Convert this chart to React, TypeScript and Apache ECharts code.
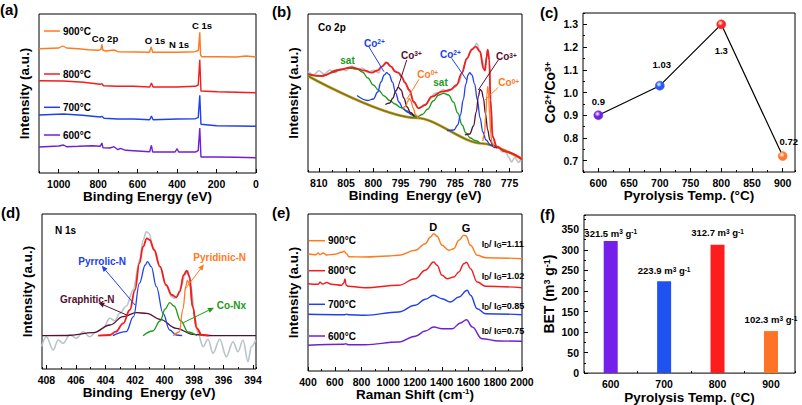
import React, { useEffect, useRef } from 'react';
import * as echarts from 'echarts';

const FONT = '"Liberation Sans", Arial, sans-serif';
const ORANGE = '#ff7a1f';
const RED = '#f41c1c';
const BLUE = '#2040ee';
const PURPLE = '#7020d4';
const GREEN = '#1c9a1c';
const MAROON = '#561031';
const GRAY = '#b7c4c8';

// ---------- (a) XPS survey: [binding energy, intensity] ----------
const survey900 = [[1100,124.3],[1000,125],[980,127],[960,125],[900,124.3],[850,123.3],[800,122.7],[786,123.5],[781,128.7],[776,122.7],[760,122],[720,123],[700,121.3],[600,121],[540,120.7],[531,126],[524,120.7],[400,120.7],[310,121.3],[292,122.5],[285,140.7],[281,118],[275,116.3],[200,116.3],[100,116],[50,117],[0,116]];
const survey800 = [[1100,92.3],[976,92],[874,90.7],[790,88.7],[781,89.3],[773,87.3],[705,86.7],[620,86.7],[539,86],[530,90],[522,86],[400,86],[307,86.7],[293,88],[285,113.3],[279,82],[196,81.3],[0,80.3]];
const survey700 = [[1100,58],[976,59],[880,57.7],[790,56],[781,56.7],[770,54.7],[700,54],[620,54],[539,53.3],[530,57],[522,53.3],[400,54],[307,54.3],[293,55.3],[285,77.7],[279,48.7],[200,47.3],[0,46.7]];
const survey600 = [[1100,26],[1000,27],[976,28],[960,26.3],[900,26.7],[830,27.3],[790,26.7],[781,30],[776,25.3],[740,25],[720,26.3],[700,23.3],[688,24.7],[660,22.7],[600,22],[539,21.3],[530,27.7],[524,21],[410,21],[400,24.3],[392,21],[307,21],[293,22.3],[285,45],[279,16],[200,16],[100,15.7],[0,15.3]];
const tempLabels = ['900°C', '800°C', '700°C', '600°C'];

// ---------- (b) Co 2p ----------
const co2pRaw = [[812,98.3],[811,95],[810,99.3],[809,96],[808,100],[807,97.3],[806,101.3],[805,99.3],[804,104],[803,100.7],[802,101.7],[801,97.3],[800,99.7],[799,97],[798.5,103],[797.7,108.3],[797,104],[796.3,100.7],[795.6,97.7],[795,96],[794.4,90],[793.8,84],[793.2,77],[792.5,67],[791.8,62.5],[791,63],[790.3,66.5],[789.5,71],[788.8,76.5],[788,77.3],[787.2,80.5],[786.5,78.3],[785.8,81],[785,82.7],[784.3,87],[783.6,98],[782.9,110],[782.2,118],[781.5,123],[781,126.7],[780.5,120],[780,110],[779.6,101],[779.3,108],[779,121],[778.7,108],[778.4,65],[778,32],[777.5,22],[777,24],[776.4,18],[775.8,20],[775.2,13.3],[774.6,8],[774,13],[773.4,7.5],[772.7,12]];
const co2pEnvelope = [[812,96],[809.5,94],[806.4,100],[804,102.7],[801.5,99.3],[800.3,97.3],[799.2,99.5],[798.5,103.3],[797.55,107.3],[796.7,103.3],[796,98.3],[795.4,97.3],[794.8,93.3],[794.2,87.3],[793.4,80],[792.6,68.3],[791.7,61.7],[790.5,65],[789.3,73.3],[787.4,78.3],[785.9,80],[784.7,85],[783.8,96.7],[782.8,111.7],[781.9,120.7],[781.2,123.3],[780.4,118.3],[779.8,101.7],[779.5,99.3],[779.2,113.3],[779,120],[778.7,110],[778.5,70],[778.1,33.3],[777.3,23.3],[775.8,18.3],[772.7,10.7]];
const co2pBackground = [[812,94],[792,52],[780,26.5],[772.7,11]];
const co2pSatA = [[812,95.5],[810.5,94],[809,94.5],[807.5,97.5],[806,100.5],[804.5,102],[803,101],[802,98],[801,92],[800,85],[799,79.5],[798,74],[797,69.5],[796,66],[795,62.5],[794,59.5],[793,56],[792,52.5]];
const co2pCo2A = [[803,74.5],[801,69.5],[800,71],[799.2,78],[798.6,88],[798,95],[797.55,97.3],[797.1,95.5],[796.5,88],[795.9,77],[795.3,68],[794.6,62],[793.8,58],[793,55]];
const co2pCo3A = [[797.8,65.5],[797,67],[796.4,72],[795.9,79],[795.4,82.7],[794.9,80],[794.4,72],[793.8,63],[793.2,57.5],[792.5,53.5]];
const co2pCo0A = [[794.6,61.5],[794.1,63.5],[793.7,68.5],[793.4,71.7],[793.1,69],[792.7,62],[792.2,55],[791.7,51]];
const co2pSatB = [[793,55],[792,53],[791,55.5],[790,61],[789,69],[788,75],[787.1,76.7],[786.2,75],[785.3,68],[784.5,57],[783.7,45],[783,37],[782.2,32],[781.3,29.5],[780.5,27.5]];
const co2pCo2B = [[786.5,39.5],[785.2,40],[784.5,45],[784,55],[783.5,70],[783,86],[782.6,95],[782.3,97.3],[781.9,95],[781.4,86],[780.9,70],[780.4,52],[779.9,38],[779.3,30],[778.5,25],[777.7,22]];
const co2pCo3B = [[783.2,35],[782.3,36],[781.6,44],[781.1,58],[780.7,74],[780.4,80.7],[780.1,79],[779.8,72],[779.4,56],[779,40],[778.6,30],[778,24.5],[777.3,22]];
const co2pCo0B = [[779.9,29],[779.6,36],[779.35,55],[779.15,75],[779,83.3],[778.85,77],[778.65,55],[778.45,36],[778.2,27],[777.8,23]];

// ---------- (c) Co2+/Co3+ ratio ----------
const pyroTemps = [600, 700, 800, 900];
const coRatio = [0.9, 1.03, 1.3, 0.72];
const ratioColors = ['#7323e0', '#2a58f0', '#ff2424', '#ff7a30'];

// ---------- (d) N 1s ----------
const n1sRaw = [[408.34,22.3],[408,32.3],[407.55,19],[407.2,29],[406.87,25.7],[406.42,34],[405.97,30.7],[405.52,37.3],[405.07,32.3],[404.61,37.3],[404.16,40.7],[403.71,50.7],[403.37,48.3],[403.03,55.7],[402.58,63],[402.13,79],[401.68,109],[401.45,129],[401.23,137.3],[401.05,135.7],[400.78,122.3],[400.33,102.3],[399.87,84],[399.53,72.3],[399.31,70.7],[399.08,74],[398.86,83],[398.63,94],[398.41,98.3],[398.18,80.7],[397.95,52.3],[397.73,35.7],[397.39,22.3],[397.05,29.7],[396.71,15.7],[396.26,29.7],[395.81,12.3],[395.36,27.3],[395.02,17.3],[394.68,29],[394.34,7.3],[394.12,22.3],[393.82,29]];
const n1sEnvelope = [[404.5,33.3],[403.7,34],[403.3,37.3],[402.8,45.7],[402.35,59],[402,79],[401.7,105.7],[401.45,122.3],[401.2,130.7],[401,129],[400.7,119],[400.3,102.3],[399.9,84],[399.5,74],[399.2,71.7],[398.97,77.3],[398.7,94],[398.5,98.3],[398.3,92.3],[398.1,62.3],[397.8,40.7],[397.5,34],[397,33.3]];
const n1sPyrrolic = [[403.5,33.3],[402.6,37.3],[402.1,52.3],[401.7,85.7],[401.3,104],[401.15,107.3],[400.9,102.3],[400.55,82.3],[400.1,55.7],[399.65,39],[399.2,34],[398.8,33.3]];
const n1sGraphitic = [[408.3,33.3],[406.6,33.5],[404.8,36.3],[403.7,44],[402.8,52.3],[401.9,56.3],[401.2,55.7],[400.3,49.7],[399.2,40.7],[398.1,34.7],[396.7,33.3],[393.8,33.3]];
const n1sCoNx = [[401.45,33.3],[400.8,38],[400.3,48],[399.95,60],[399.65,66.3],[399.35,63],[398.9,48],[398.4,37],[397.8,33.3]];
const n1sPyridinic = [[399.4,33.3],[399,37],[398.75,60],[398.55,83],[398.45,88.7],[398.3,84],[398.1,62],[397.85,41],[397.5,33.3]];

// ---------- (e) Raman ----------
const raman900 = [[400,117.3],[460,116.3],[475,118],[490,116.3],[513,118],[540,116],[600,116.7],[650,118.7],[670,119.7],[690,117],[705,114.3],[826,114],[1000,115],[1077,115.7],[1202,120.7],[1277,127.3],[1315,134],[1340,137.3],[1365,134.7],[1402,125.7],[1453,120.7],[1490,122.3],[1528,130.7],[1565,135.7],[1580,135.3],[1615,125.7],[1665,115.7],[1728,113.3],[2000,112.3]];
const raman800 = [[400,87.3],[475,86.7],[490,88.7],[510,87],[540,88.5],[575,86.7],[651,85.7],[668,88],[676,92],[685,86],[701,84.7],[826,83.3],[1077,85.7],[1202,92.3],[1277,100.7],[1340,109],[1365,105.7],[1402,95.7],[1440,92.3],[1490,94],[1528,99],[1565,107.3],[1585,108.7],[1615,102.3],[1665,89],[1728,84.7],[2000,83.3]];
const raman700 = [[400,56.7],[676,56.3],[690,56.9],[700,56.3],[826,55.7],[1077,59],[1202,65.7],[1277,71.7],[1340,75.7],[1402,72.3],[1465,69],[1528,74],[1590,80.7],[1615,75.7],[1665,62.3],[1728,57.3],[2000,56.3]];
const raman600 = [[400,25.7],[670,26.7],[680,27.3],[700,26.3],[826,26.3],[1077,29],[1202,34.7],[1277,40],[1340,44],[1402,42.3],[1478,42.3],[1540,48],[1585,51.3],[1628,44],[1700,32.3],[1828,30],[2000,29.7]];
const ramanRatios = ['1.11', '1.02', '0.85', '0.75'];

// ---------- (f) BET ----------
const betTemps = [600, 700, 800, 900];
const betValues = [321.5, 223.9, 312.7, 102.3];
const betColors = ['#7420ea', '#2052f2', '#ff1c1c', '#ff7326'];

const tickFont = { color: '#000', fontWeight: 'bold' as const, fontSize: 10.5, fontFamily: FONT };
const nameFont = { color: '#000', fontWeight: 'bold' as const, fontSize: 13.5, fontFamily: FONT };
const supRich = {
  sup: { fontSize: 8, fontWeight: 'bold', fontFamily: FONT, color: '#000', verticalAlign: 'top', lineHeight: 8 },
};
const plainFmt = (v: number) => String(v);

function majorX(gi: number, min: number, max: number, step: number, o: any) {
  return {
    type: 'value', gridIndex: gi, position: 'bottom', min, max, minInterval: step, maxInterval: step,
    inverse: !!o.inverse,
    axisLine: { show: false, onZero: false }, splitLine: { show: false },
    axisTick: { inside: true, length: 4, lineStyle: { color: '#000', width: 1 } },
    axisLabel: { ...tickFont, margin: 5, showMinLabel: o.showMin, showMaxLabel: o.showMax, formatter: o.fmt || plainFmt },
    name: o.name, nameLocation: 'middle', nameGap: o.gap,
    nameTextStyle: { ...nameFont, rich: supRich },
  };
}
function minorX(gi: number, min: number, max: number, step: number, inverse = false) {
  return {
    type: 'value', gridIndex: gi, position: 'bottom', min, max, minInterval: step, maxInterval: step, inverse,
    axisLine: { show: false, onZero: false }, splitLine: { show: false }, axisLabel: { show: false },
    axisTick: { inside: true, length: 2, lineStyle: { color: '#000', width: 1 } },
  };
}
function plainY(gi: number, min: number, max: number, name: string, gap: number) {
  return {
    type: 'value', gridIndex: gi, position: 'left', min, max,
    axisLine: { show: false, onZero: false }, splitLine: { show: false }, axisTick: { show: false }, axisLabel: { show: false },
    name, nameLocation: 'middle', nameGap: gap, nameTextStyle: { ...nameFont, rich: supRich },
  };
}
function majorY(gi: number, min: number, max: number, step: number, o: any) {
  return {
    type: 'value', gridIndex: gi, position: 'left', min, max, minInterval: step, maxInterval: step,
    axisLine: { show: false, onZero: false }, splitLine: { show: false },
    axisTick: { inside: true, length: 4, lineStyle: { color: '#000', width: 1 } },
    axisLabel: { ...tickFont, margin: 5, showMinLabel: o.showMin, showMaxLabel: o.showMax, formatter: o.fmt || plainFmt },
    name: o.name, nameLocation: 'middle', nameGap: o.gap,
    nameTextStyle: { ...nameFont, fontSize: 14, rich: { sup: { ...supRich.sup, fontSize: 9 } } },
  };
}
function minorY(gi: number, min: number, max: number, step: number) {
  return {
    type: 'value', gridIndex: gi, position: 'left', min, max, minInterval: step, maxInterval: step,
    axisLine: { show: false, onZero: false }, splitLine: { show: false }, axisLabel: { show: false },
    axisTick: { inside: true, length: 2, lineStyle: { color: '#000', width: 1 } },
  };
}

function ln(data: number[][], color: string, xi: number, yi: number, w = 1.4, smooth: number | boolean = 0) {
  return {
    type: 'line', data, xAxisIndex: xi, yAxisIndex: yi, symbol: 'none', silent: true,
    lineStyle: { color, width: w }, itemStyle: { color }, smooth, smoothMonotone: 'x', clip: true,
  };
}

function txt(x: number, y: number, text: string, color = '#000', size = 10, align = 'left', rich?: any) {
  return {
    type: 'text', x, y, z: 100, silent: true,
    style: { text, fill: color, font: `bold ${size}px ${FONT}`, textAlign: align, textVerticalAlign: 'middle', rich },
  };
}
function seg(x1: number, y1: number, x2: number, y2: number, color: string, w = 1) {
  return { type: 'line', z: 100, silent: true, shape: { x1, y1, x2, y2 }, style: { stroke: color, lineWidth: w } };
}
function arrow(x1: number, y1: number, x2: number, y2: number, color: string) {
  const a = Math.atan2(y2 - y1, x2 - x1);
  const L = 6, W = 2.6;
  const bx = x2 - L * Math.cos(a), by = y2 - L * Math.sin(a);
  return [
    seg(x1, y1, bx, by, color, 1),
    {
      type: 'polygon', z: 100, silent: true,
      shape: { points: [[x2, y2], [bx + W * Math.sin(a), by - W * Math.cos(a)], [bx - W * Math.sin(a), by + W * Math.cos(a)]] },
      style: { fill: color },
    },
  ];
}

const coSupRich = { sup: { fontSize: 6.5, fontWeight: 'bold', fontFamily: FONT, verticalAlign: 'top', lineHeight: 7 } };
const subRich = { sub: { fontSize: 6.5, fontWeight: 'bold', fontFamily: FONT, verticalAlign: 'bottom', lineHeight: 7 } };

function buildOption() {
  const grids = [
    { left: 39, top: 14, width: 217, height: 159 },
    { left: 308, top: 14, width: 214, height: 158 },
    { left: 583, top: 13, width: 212, height: 159 },
    { left: 42, top: 214, width: 214, height: 155 },
    { left: 308, top: 214, width: 214, height: 157 },
    { left: 584, top: 215, width: 211, height: 159 },
  ].map((g) => ({ ...g, show: true, borderColor: '#000', borderWidth: 1, containLabel: false }));

  const xAxis = [
    majorX(0, 0, 1100, 200, { inverse: true, showMin: true, showMax: false, name: 'Binding Energy (eV)', gap: 12 }),
    minorX(0, 0, 1100, 100, true),
    majorX(1, 772.7, 812, 5, { inverse: true, showMin: false, showMax: false, name: 'Binding  Energy (eV)', gap: 12 }),
    minorX(1, 772.7, 812, 2.5, true),
    majorX(2, 575, 920, 50, { showMin: false, showMax: false, name: 'Pyrolysis Temp. (°C)', gap: 12 }),
    minorX(2, 575, 920, 25),
    majorX(3, 393.8, 408.3, 2, { inverse: true, showMin: false, showMax: false, name: 'Binding  Energy (eV)', gap: 14 }),
    minorX(3, 393.8, 408.3, 1, true),
    majorX(4, 400, 2000, 200, { showMin: true, showMax: true, name: 'Raman Shift (cm{sup|-1})', gap: 14 }),
    minorX(4, 400, 2000, 100),
    majorX(5, 550, 945, 100, { showMin: false, showMax: false, name: 'Pyrolysis Temp. (°C)', gap: 12 }),
    minorX(5, 550, 945, 50),
  ];
  const yAxis = [
    plainY(0, 0, 159, 'Intensity (a.u.)', 8),
    plainY(1, -2, 156, 'Intensity (a.u.)', 8),
    majorY(2, 0.65, 1.35, 0.1, { showMin: false, showMax: false, fmt: (v: number) => v.toFixed(1), name: 'Co{sup|2+}/Co{sup|3+}', gap: 26 }),
    minorY(2, 0.65, 1.35, 0.05),
    plainY(3, 0, 155, 'Intensity (a.u.)', 8),
    plainY(4, 0, 157, 'Intensity (a.u.)', 8),
    majorY(5, 0, 385, 50, { showMin: true, showMax: false, name: 'BET (m{sup|3} g{sup|-1})', gap: 28 }),
    minorY(5, 0, 385, 25),
  ];

  const series: any[] = [];
  // (a)
  series.push(ln(survey900, ORANGE, 0, 0, 1.4));
  series.push(ln(survey800, RED, 0, 0, 1.4));
  series.push(ln(survey700, BLUE, 0, 0, 1.4));
  series.push(ln(survey600, PURPLE, 0, 0, 1.4));
  // (b)
  series.push(ln(co2pRaw, GRAY, 2, 1, 1.6, 0.3));
  series.push(ln(co2pBackground, ORANGE, 2, 1, 2.6, 0.3));
  series.push(ln(co2pBackground, GREEN, 2, 1, 1.2, 0.3));
  series.push(ln(co2pSatA, GREEN, 2, 1, 1.3, 0.4));
  series.push(ln(co2pSatB, GREEN, 2, 1, 1.3, 0.4));
  series.push(ln(co2pCo2A, BLUE, 2, 1, 1.3, 0.4));
  series.push(ln(co2pCo2B, BLUE, 2, 1, 1.3, 0.4));
  series.push(ln(co2pCo3A, MAROON, 2, 1, 1.3, 0.4));
  series.push(ln(co2pCo3B, MAROON, 2, 1, 1.3, 0.4));
  series.push(ln(co2pCo0A, ORANGE, 2, 1, 1.3, 0.4));
  series.push(ln(co2pCo0B, ORANGE, 2, 1, 1.3, 0.4));
  series.push(ln(co2pEnvelope, RED, 2, 1, 1.8, 0.4));
  // (c)
  series.push({
    type: 'line', xAxisIndex: 4, yAxisIndex: 2, silent: true,
    lineStyle: { color: '#000', width: 1.2 }, symbol: 'circle', symbolSize: 9,
    data: pyroTemps.map((t, i) => ({
      value: [t, coRatio[i]],
      itemStyle: {
        color: { type: 'radial', x: 0.4, y: 0.35, r: 0.7, colorStops: [{ offset: 0, color: '#ffffff' }, { offset: 0.45, color: ratioColors[i] }, { offset: 1, color: ratioColors[i] }] },
        borderColor: ratioColors[i], borderWidth: 0.5,
      },
      label: [
        { position: 'top', distance: 4, offset: [0, 0] },
        { position: 'top', distance: 4, offset: [2, -7] },
        { position: 'bottom', distance: 16, offset: [0, 0] },
        { position: 'top', distance: 3, offset: [6, -2] },
      ][i],
    })),
    label: { show: true, color: '#000', fontWeight: 'bold', fontSize: 9.5, fontFamily: FONT, formatter: (p: any) => String(p.value[1]) },
  });
  // (d)
  series.push(ln(n1sRaw, GRAY, 6, 4, 1.6, 0.35));
  series.push(ln(n1sGraphitic, MAROON, 6, 4, 1.3, 0.4));
  series.push(ln(n1sPyrrolic, BLUE, 6, 4, 1.3, 0.4));
  series.push(ln(n1sCoNx, GREEN, 6, 4, 1.3, 0.4));
  series.push(ln(n1sPyridinic, ORANGE, 6, 4, 1.3, 0.4));
  series.push(ln(n1sEnvelope, RED, 6, 4, 1.8, 0.4));
  // (e)
  series.push(ln(raman900, ORANGE, 8, 5, 1.4, 0.4));
  series.push(ln(raman800, RED, 8, 5, 1.4, 0.4));
  series.push(ln(raman700, BLUE, 8, 5, 1.4, 0.4));
  series.push(ln(raman600, PURPLE, 8, 5, 1.4, 0.4));
  // (f)
  series.push({
    type: 'bar', xAxisIndex: 10, yAxisIndex: 6, barWidth: 14, silent: true,
    data: betTemps.map((t, i) => ({
      value: [t, betValues[i]],
      itemStyle: { color: betColors[i] },
      label: { distance: [3, 5.5, 7, 6.5][i] },
    })),
    label: {
      show: true, position: 'top', color: '#000', fontWeight: 'bold', fontSize: 9.5, fontFamily: FONT,
      formatter: (p: any) => `${p.value[1].toFixed(1)} m{sup|3} g{sup|-1}`,
      rich: { sup: { fontSize: 6.5, fontWeight: 'bold', fontFamily: FONT, color: '#000', verticalAlign: 'top', lineHeight: 7 } },
    },
  });

  const legendA = [31, 74, 107.3, 135];
  const legendE = [240.7, 270.7, 304.3, 336];
  const colorsT = [ORANGE, RED, BLUE, PURPLE];
  const graphic: any[] = [
    txt(0, 9, '(a)', '#000', 15),
    txt(272, 11, '(b)', '#000', 15),
    txt(540, 12, '(c)', '#000', 15),
    txt(1, 212, '(d)', '#000', 15),
    txt(272, 212, '(e)', '#000', 15),
    txt(540, 214, '(f)', '#000', 15),
    // (a)
    txt(105, 38, 'Co 2p', '#000', 9.5, 'center'),
    txt(155, 40.7, 'O 1s', '#000', 9.5, 'center'),
    txt(179, 44.3, 'N 1s', '#000', 9.5, 'center'),
    txt(202, 25, 'C 1s', '#000', 9.5, 'center'),
    // (b)
    txt(318, 27.3, 'Co 2p', '#000', 10),
    txt(347.5, 60.7, 'sat', GREEN, 10, 'center'),
    txt(440.5, 82.7, 'sat', GREEN, 10, 'center'),
    txt(364, 43.3, 'Co{sup|2+}', BLUE, 10, 'left', coSupRich),
    txt(401, 55, 'Co{sup|3+}', MAROON, 10, 'left', coSupRich),
    txt(417.3, 74, 'Co{sup|0+}', ORANGE, 10, 'left', coSupRich),
    txt(440, 54.3, 'Co{sup|2+}', BLUE, 10, 'left', coSupRich),
    txt(496, 56.7, 'Co{sup|3+}', MAROON, 10, 'left', coSupRich),
    txt(498.3, 82.7, 'Co{sup|0+}', ORANGE, 10, 'left', coSupRich),
    seg(369, 47, 384, 71.7, BLUE),
    seg(406.7, 60, 397.7, 88.3, MAROON),
    seg(419, 79.3, 406.7, 99.3, ORANGE),
    seg(451.7, 58.3, 466.7, 80, BLUE),
    seg(498.3, 60, 478.3, 90, MAROON),
    seg(498.3, 87.3, 485, 100, ORANGE),
    // (d)
    txt(55, 230.7, 'N 1s', '#000', 10),
    txt(78.3, 261, 'Pyrrolic-N', BLUE, 10),
    txt(60, 299, 'Graphitic-N', MAROON, 10),
    txt(193.3, 257.7, 'Pyridinic-N', ORANGE, 10),
    txt(216.7, 305, 'Co-Nx', GREEN, 10),
    ...arrow(135, 305, 101.7, 265.7, BLUE),
    ...arrow(126.7, 315, 98.3, 302.7, MAROON),
    ...arrow(185, 289.3, 204, 264.3, ORANGE),
    ...arrow(183.3, 322.7, 214, 307.7, GREEN),
    // (e)
    txt(433.3, 226.7, 'D', '#000', 11, 'center'),
    txt(466, 228.3, 'G', '#000', 11, 'center'),
  ];
  tempLabels.forEach((t, i) => {
    graphic.push(seg(44, legendA[i], 60, legendA[i], colorsT[i], 1.5));
    graphic.push(txt(63, legendA[i], t, '#000', 10));
    graphic.push(seg(309, legendE[i], 325, legendE[i], colorsT[i], 1.5));
    graphic.push(txt(328, legendE[i], t, '#000', 10));
  });
  const ratioY = [244, 276, 306, 330.7];
  ramanRatios.forEach((r, i) => {
    graphic.push(txt(481.7, ratioY[i], `I{sub|D}/ I{sub|G}=${r}`, '#000', 9, 'left', subRich));
  });

  return {
    animation: false,
    backgroundColor: '#fff',
    textStyle: { fontFamily: FONT },
    grid: grids,
    xAxis,
    yAxis,
    series,
    graphic: { elements: graphic },
  };
}

export default function App() {
  const ref = useRef<HTMLDivElement>(null);
  useEffect(() => {
    const chart = echarts.init(ref.current!, null, { renderer: 'svg' });
    chart.setOption(buildOption() as any);
    return () => chart.dispose();
  }, []);
  return <div ref={ref} style={{ position: 'fixed', left: 0, top: 0, width: 802, height: 405, background: '#fff' }} />;
}
